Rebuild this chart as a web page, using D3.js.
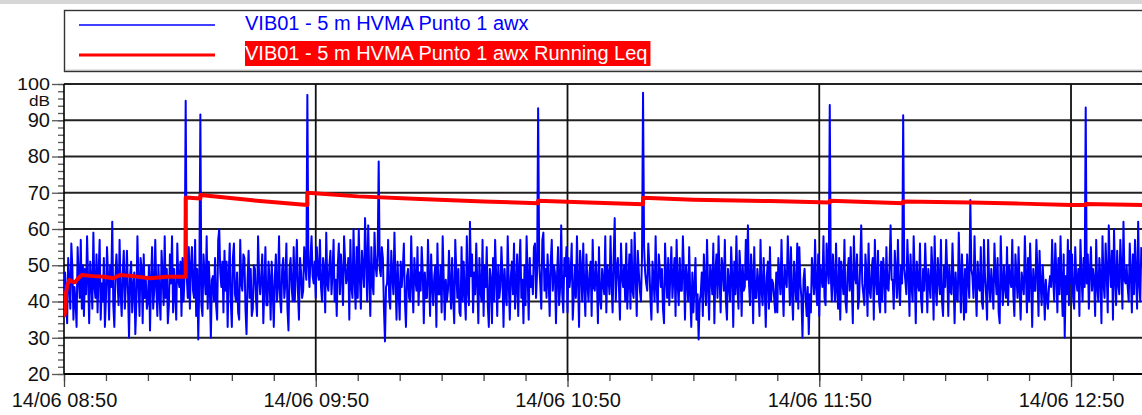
<!DOCTYPE html>
<html>
<head>
<meta charset="utf-8">
<script src="https://cdn.jsdelivr.net/npm/d3@7"></script>
<style>
  html, body { margin: 0; padding: 0; background: #fff; }
  svg { display: block; font-family: "Liberation Sans", Arial, sans-serif; }
</style>
</head>
<body>
<svg id="chart" width="1142" height="415"></svg>
<script>
// ---- data ----
const seriesNames = [
  "VIB01 - 5 m HVMA Punto 1 awx",
  "VIB01 - 5 m HVMA Punto 1 awx Running Leq"
];
const startTime = "2021-06-14T08:50:00";
const endTime = "2021-06-14T13:06:55";
const sampleSeconds = 15;

// awx level (dB), one value every 15 s, 20 values per row (5 minutes)
const awx = [
  36, 48, 42, 34, 52, 45, 38, 56, 49, 35, 44, 40, 33, 55, 47, 41, 57, 38, 50, 36,   // 08:50
  49, 42, 58, 46, 34, 51, 46, 38, 59, 44, 41, 53, 37, 48, 57, 35, 45, 40, 52, 33,   // 08:55
  41, 55, 47, 35, 50, 44, 62, 39, 33, 47, 53, 46, 39, 57, 42, 36, 48, 54, 38, 45,   // 09:00
  54, 43, 30, 47, 51, 37, 44, 48, 31, 40, 58, 45, 36, 52, 49, 34, 53, 41, 46, 38,   // 09:05
  40, 50, 32, 46, 55, 38, 43, 57, 44, 36, 50, 42, 35, 54, 47, 39, 58, 41, 49, 34,   // 09:10
  39, 53, 45, 58, 37, 49, 42, 35, 56, 46, 44, 51, 36, 52, 40, 48, 95.4, 47, 41, 55, // 09:15
  38, 50, 55, 43, 41, 57, 36, 49, 29.5, 45, 91.6, 39, 36, 53, 47, 42, 58, 38, 51, 44, // 09:20
  30, 46, 47, 40, 52, 39, 35, 57, 60, 48, 44, 51, 37, 54, 43, 51, 33, 47, 56, 40,   // 09:25
  33, 52, 56, 42, 40, 48, 37, 35, 57, 45, 43, 53, 52, 38, 31, 46, 54, 41, 49, 36,   // 09:30
  38, 50, 49, 41, 36, 58, 47, 42, 47, 53, 34, 44, 55, 39, 39, 51, 46, 35, 51, 43,   // 09:35
  33, 47, 53, 40, 44, 58, 41, 37, 49, 52, 41, 45, 56, 38, 32, 49, 52, 44, 40, 55,   // 09:40
  40, 48, 57, 43, 35, 52, 48, 41, 43, 55, 50, 46, 97.0, 50, 44, 52, 58, 47, 45, 51, // 09:45
  41, 55, 48, 46, 57, 44, 40, 52, 49, 37, 59, 45, 43, 50, 54, 42, 48, 57, 40, 46,   // 09:50
  36, 50, 56, 42, 53, 47, 39, 58, 51, 45, 47, 52, 35, 57, 44, 41, 60, 46, 38, 55,   // 09:55
  41, 60, 47, 38, 54, 49, 44, 63, 52, 40, 61, 48, 36, 55, 45, 42, 59, 50, 47, 53,   // 10:00
  78.6, 49, 47, 55, 52, 38, 29, 44, 45, 57, 41, 38, 54, 47, 42, 59, 46, 35, 51, 43, // 10:05
  35, 51, 44, 49, 56, 40, 33, 47, 49, 41, 40, 58, 45, 37, 52, 46, 43, 55, 39, 48,   // 10:10
  43, 55, 48, 34, 48, 41, 41, 57, 46, 36, 53, 44, 39, 47, 50, 33, 56, 42, 42, 50,   // 10:15
  37, 58, 46, 35, 46, 40, 43, 54, 45, 38, 52, 41, 34, 57, 48, 41, 49, 37, 36, 55,   // 10:20
  40, 51, 42, 35, 58, 43, 39, 62, 47, 53, 37, 48, 42, 56, 45, 34, 52, 43, 40, 57,   // 10:25
  36, 50, 44, 55, 39, 33, 49, 46, 34, 52, 40, 57, 47, 36, 50, 41, 44, 55, 47, 33,   // 10:30
  49, 42, 39, 58, 45, 35, 47, 51, 42, 56, 38, 44, 53, 36, 49, 57, 41, 46, 34, 50,   // 10:35
  39, 58, 47, 35, 52, 44, 47, 42, 55, 56, 41, 48, 93.3, 51, 45, 38, 57, 59, 43, 49, // 10:40
  41, 53, 46, 36, 51, 57, 43, 50, 48, 34, 47, 55, 39, 44, 61, 42, 37, 52, 47, 55,   // 10:45
  37, 52, 44, 48, 56, 35, 42, 50, 41, 58, 46, 33, 54, 49, 40, 56, 44, 36, 53, 45,   // 10:50
  40, 48, 51, 36, 57, 44, 43, 51, 46, 34, 55, 41, 38, 49, 45, 42, 58, 37, 50, 47,   // 10:55
  42, 58, 45, 37, 52, 63, 40, 49, 52, 44, 35, 56, 47, 44, 50, 40, 56, 38, 46, 53,   // 11:00
  38, 57, 43, 41, 59, 47, 36, 54, 48, 43, 40, 52, 97.6, 55, 48, 45, 43, 56, 50, 41, // 11:05
  35, 51, 46, 40, 58, 44, 37, 53, 49, 44, 49, 38, 34, 56, 47, 41, 52, 39, 47, 55,   // 11:10
  41, 47, 52, 36, 57, 45, 39, 52, 43, 43, 58, 48, 35, 50, 46, 40, 55, 42, 33, 48,   // 11:15
  37, 44, 52, 35, 42, 29.5, 40, 42, 48, 36, 53, 45, 39, 57, 44, 35, 50, 47, 42, 56, // 11:20
  34, 48, 53, 41, 58, 46, 37, 52, 49, 43, 57, 40, 35, 49, 45, 40, 55, 47, 33, 51,   // 11:25
  42, 58, 44, 38, 54, 48, 36, 50, 43, 44, 57, 46, 61, 45, 39, 53, 47, 34, 55, 41,   // 11:30
  41, 49, 45, 36, 57, 43, 39, 52, 44, 33, 47, 51, 38, 55, 40, 46, 45, 41, 37, 48,   // 11:35
  37, 52, 47, 42, 57, 44, 36, 50, 46, 44, 58, 49, 39, 55, 42, 35, 51, 45, 40, 56,   // 11:40
  38, 55, 45, 41, 30, 46, 49, 41, 36, 44, 31, 42, 37, 52, 47, 42, 57, 44, 39, 53,   // 11:45
  36, 50, 47, 44, 58, 41, 39, 56, 49, 45, 94.2, 47, 40, 53, 46, 40, 56, 43, 38, 52, // 11:50
  35, 51, 46, 42, 57, 40, 37, 48, 52, 43, 55, 44, 34, 58, 47, 45, 53, 38, 41, 50,   // 11:55
  61, 45, 42, 39, 53, 48, 36, 56, 43, 41, 49, 52, 35, 57, 46, 42, 54, 40, 37, 51,   // 12:00
  40, 52, 47, 37, 55, 44, 43, 50, 61, 46, 46, 38, 54, 48, 41, 57, 44, 39, 50, 45,   // 12:05
  91.4, 49, 46, 42, 57, 48, 36, 53, 44, 40, 58, 47, 34, 51, 45, 43, 56, 41, 37, 49, // 12:10
  43, 56, 47, 37, 49, 45, 41, 55, 48, 35, 58, 44, 39, 52, 46, 42, 57, 40, 36, 50,   // 12:15
  44, 57, 48, 36, 50, 43, 42, 56, 46, 34, 48, 41, 40, 59, 47, 37, 53, 45, 35, 49,   // 12:20
  37, 53, 46, 41, 68, 49, 47, 41, 58, 45, 36, 51, 44, 43, 55, 40, 38, 57, 47, 42,   // 12:25
  35, 57, 45, 40, 49, 44, 38, 56, 47, 42, 52, 37, 34, 58, 46, 39, 50, 44, 41, 55,   // 12:30
  39, 50, 46, 44, 57, 42, 36, 53, 47, 41, 55, 43, 35, 48, 45, 42, 58, 47, 37, 52,   // 12:35
  40, 56, 46, 33, 49, 43, 43, 57, 48, 36, 54, 45, 39, 50, 44, 35, 46, 41, 38, 44,   // 12:40
  47, 44, 57, 46, 40, 56, 48, 37, 52, 42, 58, 45, 36, 53, 30, 47, 42, 57, 39, 54,   // 12:45
  45, 53, 41, 38, 55, 46, 43, 49, 36, 57, 47, 40, 52, 44, 93.5, 45, 53, 38, 48, 55, // 12:50
  43, 49, 46, 36, 57, 44, 40, 52, 47, 34, 58, 45, 41, 56, 48, 37, 61, 50, 44, 54,   // 12:55
  35, 60, 47, 39, 54, 45, 42, 57, 49, 38, 62, 46, 45, 50, 44, 40, 56, 48, 37, 53,   // 13:00
  42, 57, 47, 38, 62, 45, 40, 55                                                    // 13:05
];

// running Leq (dB) as [minutes after start, level]; repeated minutes are the jumps
const runningLeq = [
  [0, 35.8], [0.24, 36.8], [0.48, 42.3], [0.79, 44.5], [1.26, 45.9], [2.0, 45.5],
  [2.62, 45.3], [3.41, 46.4], [4.22, 47.3], [6.98, 47.0], [9.5, 46.8], [11.75, 46.4],
  [13.35, 47.3], [16.44, 47.0], [20.5, 46.4], [24.48, 46.8], [29, 46.8],
  [29, 68.7], [32.5, 68.4], [32.5, 69.4], [45, 67.9], [58, 66.6],
  [58, 70.0], [70, 69.0], [84.85, 68.3], [100, 67.6], [113, 67.1],
  [113, 67.8], [125, 67.3], [138, 66.8],
  [138, 68.6], [150, 68.1], [168.26, 67.7], [182.5, 67.3],
  [182.5, 67.8], [200, 67.1],
  [200, 67.6], [216, 67.3], [228, 67.0], [240, 66.6], [243.5, 66.6],
  [243.5, 66.9], [256.92, 66.6]
];

const yTicks = [20, 30, 40, 50, 60, 70, 80, 90, 100];
const yMinorStep = 2;
const yUnit = "dB";
const xTickClock = ["08:50", "09:50", "10:50", "11:50", "12:50"];
const xMinorMinutes = 10;

// ---- layout ----
const W = 1142, H = 415;
const plot = { left: 64, right: 1142, top: 84, bottom: 374 };
const blue = "#0000ff", red = "#ff0000";

const svg = d3.select("#chart");
const t0 = new Date(startTime), t1 = new Date(endTime);

const x = d3.scaleTime().domain([t0, t1]).range([plot.left, plot.right]);
const y = d3.scaleLinear().domain([20, 100]).range([plot.bottom, plot.top]);

const dayPrefix = d3.timeFormat("%Y-%m-%d")(t0);
const majorTimes = xTickClock.map(c => new Date(dayPrefix + "T" + c + ":00"));
const fmt = d3.timeFormat("%d/%m %H:%M");

// top strip
svg.append("rect").attr("x", 0).attr("y", 0).attr("width", W).attr("height", 4).attr("fill", "#d6d6d6");

// ---- legend ----
const lg = svg.append("g");
lg.append("rect").attr("x", 64.5).attr("y", 10.5).attr("width", 1120).attr("height", 61)
  .attr("fill", "#fff").attr("stroke", "#333").attr("stroke-width", 1.4);
lg.append("line").attr("x1", 65).attr("x2", W).attr("y1", 70.2).attr("y2", 70.2)
  .attr("stroke", "#aaa").attr("stroke-width", 1);
lg.append("line").attr("x1", 79).attr("x2", 215).attr("y1", 25).attr("y2", 25)
  .attr("stroke", blue).attr("stroke-width", 1.4);
lg.append("line").attr("x1", 79).attr("x2", 215).attr("y1", 55).attr("y2", 55)
  .attr("stroke", red).attr("stroke-width", 3.2);
lg.append("text").attr("x", 245).attr("y", 30).attr("font-size", 20).attr("fill", blue)
  .text(seriesNames[0]);
const redBg = lg.append("rect").attr("x", 245).attr("y", 41).attr("height", 25).attr("fill", red);
const redTxt = lg.append("text").attr("x", 245).attr("y", 60).attr("font-size", 20).attr("fill", "#fff")
  .text(seriesNames[1]);
redBg.attr("width", redTxt.node().getComputedTextLength() + 3);

// ---- grid ----
const grid = svg.append("g");
grid.selectAll("line.h").data(yTicks.filter(v => v > 20)).join("line")
  .attr("x1", plot.left).attr("x2", plot.right)
  .attr("y1", d => y(d)).attr("y2", d => y(d))
  .attr("stroke", "#222").attr("stroke-width", 1.8);
grid.selectAll("line.v").data(majorTimes.slice(1)).join("line")
  .attr("x1", d => x(d)).attr("x2", d => x(d))
  .attr("y1", plot.top).attr("y2", plot.bottom)
  .attr("stroke", "#111").attr("stroke-width", 1.8);

// ---- axes ----
const yMinor = svg.append("g").attr("transform", `translate(${plot.left},0)`)
  .call(d3.axisLeft(y).tickValues(d3.range(20, 100.1, yMinorStep)).tickSize(6).tickFormat(""));
const yMajor = svg.append("g").attr("transform", `translate(${plot.left},0)`)
  .call(d3.axisLeft(y).tickValues(yTicks).tickSize(12).tickPadding(2).tickFormat(d3.format("d")));
[yMinor, yMajor].forEach(g => {
  g.select(".domain").remove();
  g.selectAll("line").attr("stroke", "#555").attr("stroke-width", 1.3);
});
yMajor.selectAll("text").attr("font-size", 20).attr("fill", "#111")
  .attr("font-family", "Liberation Sans, Arial, sans-serif");
// the top label and the unit share the space above 90
yMajor.selectAll(".tick").filter(d => d === 100).select("text")
  .attr("font-size", 16).attr("textLength", 33).attr("lengthAdjust", "spacingAndGlyphs");
svg.append("text").attr("x", 50).attr("y", 106).attr("text-anchor", "end")
  .attr("font-size", 14.5).attr("textLength", 21).attr("lengthAdjust", "spacingAndGlyphs")
  .attr("fill", "#111").text(yUnit);

const xMinor = svg.append("g").attr("transform", `translate(0,${plot.bottom})`)
  .call(d3.axisBottom(x).tickValues(d3.timeMinute.every(xMinorMinutes).range(t0, t1)).tickSize(7).tickFormat(""));
const xMajor = svg.append("g").attr("transform", `translate(0,${plot.bottom})`)
  .call(d3.axisBottom(x).tickValues(majorTimes).tickSize(13).tickPadding(6).tickFormat(fmt));
[xMinor, xMajor].forEach(g => {
  g.select(".domain").remove();
  g.selectAll("line").attr("stroke", "#444").attr("stroke-width", 1.3);
});
xMajor.selectAll("text").attr("font-size", 20).attr("fill", "#111")
  .attr("font-family", "Liberation Sans, Arial, sans-serif");

// frame: left axis and bottom axis
svg.append("line").attr("x1", plot.left).attr("x2", plot.left).attr("y1", plot.top).attr("y2", plot.bottom)
  .attr("stroke", "#000").attr("stroke-width", 1.6);
svg.append("line").attr("x1", plot.left).attr("x2", plot.right).attr("y1", plot.bottom).attr("y2", plot.bottom)
  .attr("stroke", "#000").attr("stroke-width", 2);

// ---- series ----
svg.append("clipPath").attr("id", "clip").append("rect")
  .attr("x", plot.left).attr("y", plot.top - 10).attr("width", plot.right - plot.left).attr("height", plot.bottom - plot.top + 10);
const series = svg.append("g").attr("clip-path", "url(#clip)");

const sampleTime = i => new Date(t0.getTime() + i * sampleSeconds * 1000);
series.append("path").datum(awx)
  .attr("fill", "none").attr("stroke", blue).attr("stroke-width", 2).attr("stroke-linejoin", "round")
  .attr("d", d3.line().x((d, i) => x(sampleTime(i))).y(d => y(d)));

const minuteTime = m => new Date(t0.getTime() + m * 60000);
series.append("path").datum(runningLeq)
  .attr("fill", "none").attr("stroke", red).attr("stroke-width", 4).attr("stroke-linejoin", "round")
  .attr("d", d3.line().x(d => x(minuteTime(d[0]))).y(d => y(d[1])));
</script>
</body>
</html>
